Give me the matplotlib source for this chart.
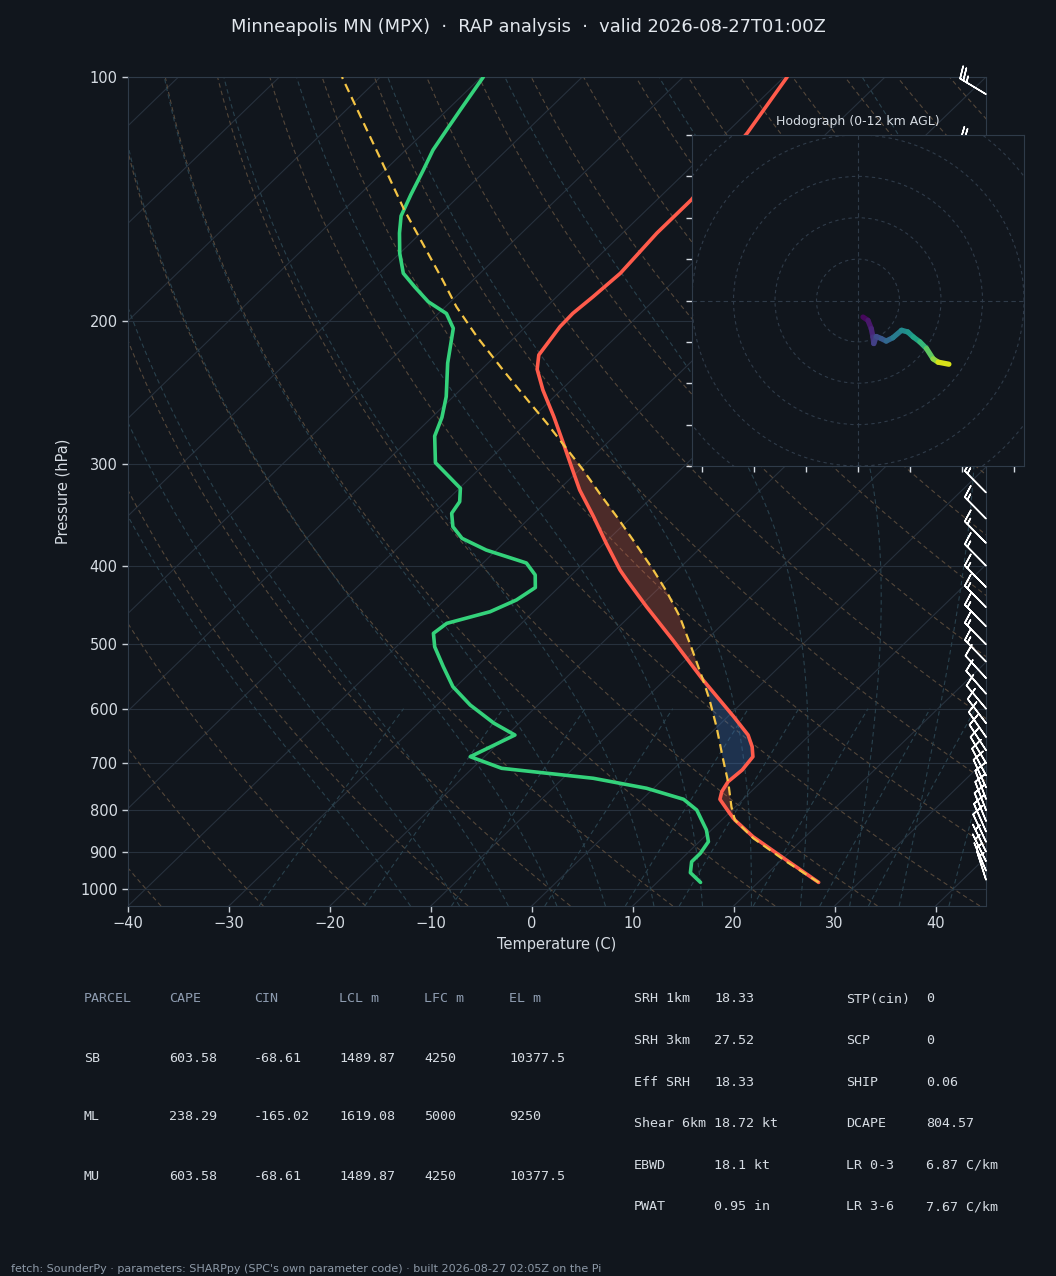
import numpy as np
import matplotlib
matplotlib.use('Agg')
import matplotlib.pyplot as plt
from matplotlib.transforms import Affine2D, blended_transform_factory
from matplotlib.collections import LineCollection
from matplotlib.patches import Circle
from matplotlib.ticker import FixedLocator, NullLocator, NullFormatter, FixedFormatter

# ---------------- data ----------------
title = "Minneapolis MN (MPX)  \u00b7  RAP analysis  \u00b7  valid 2026-08-27T01:00Z"
footer = ("fetch: SounderPy \u00b7 parameters: SHARPpy (SPC's own parameter code) \u00b7 "
          "built 2026-08-27 02:05Z on the Pi")

env_p = [982, 921.6, 862.5, 822.7, 807.2, 775.8, 759.2, 738.0, 713.9, 687.5, 668.3,
         646.5, 613.8, 553.1, 493.8, 449.4, 416.5, 404.9, 375.4, 348.0, 322.7, 302.1,
         282.7, 262.0, 243.0, 229.1, 220.0, 203.1, 195.5, 186.5, 174.5, 155.7, 141.7,
         117.3, 100]
env_t = [26.0, 20.5, 14.8, 11.3, 10.1, 7.7, 7.1, 6.7, 6.9, 6.6, 5.5,
         3.9, 0.6, -6.2, -13.3, -19.3, -24.0, -25.7, -29.8, -33.8, -37.9, -41.1,
         -44.3, -48.0, -51.8, -54.5, -55.8, -56.6, -56.7, -56.4, -56.1, -56.6, -56.6,
         -57.9, -59.7]

dew_p = [982, 955.4, 926.1, 904.3, 874.8, 846.2, 799.7, 775.8, 751.9, 730.9, 710.5,
         687.5, 646.5, 625.1, 593.8, 563.7, 532.6, 503.3, 484.5, 471.0, 455.7, 440.8,
         425.5, 410.6, 396.9, 382.6, 370.1, 358.1, 344.7, 333.5, 321.1, 298.6, 276.9,
         262.6, 247.6, 225.1, 204.0, 195.6, 189.2, 181.3, 174.5, 164.9, 155.7, 148.3,
         139.7, 130.2, 123.0, 116.3, 109.8, 100]
dew_t = [14.3, 12.3, 11.3, 11.3, 10.9, 9.5, 6.5, 4.1, -0.7, -7.0, -17.1,
         -21.4, -19.2, -22.5, -26.7, -30.3, -33.3, -36.2, -37.7, -37.4, -34.3, -32.9,
         -32.3, -33.6, -35.7, -41.0, -44.6, -46.7, -48.2, -48.6, -49.9, -55.0, -57.8,
         -59.0, -60.7, -64.0, -67.0, -69.2, -72.2, -75.1, -77.6, -80.0, -82.1, -83.7,
         -84.9, -86.2, -87.3, -88.0, -88.7, -89.8]

par_p = [982, 926.1, 866.4, 822.7, 792.3, 741.4, 694.0, 631.2, 585.4, 553.1, 503.3,
         462.2, 431.0, 404.9, 371.8, 348.0, 325.7, 304.9, 284.0, 267.0, 252.3, 229.6,
         208.9, 191.9, 177.9, 145.8, 125.4, 100]
par_t = [26.0, 20.7, 15.0, 11.3, 9.6, 6.9, 4.0, -0.1, -3.5, -6.2, -10.8,
         -15.0, -18.8, -22.4, -27.5, -31.5, -35.6, -39.6, -44.1, -48.0, -51.7, -57.8,
         -63.8, -68.9, -73.0, -84.0, -91.9, -103.8]
lfc_p = 553.1

# wind barbs (kt)
barb_p = [975, 950, 925, 900, 875, 850, 825, 800, 775, 750, 725, 700, 675, 650, 625,
          600, 575, 550, 525, 500, 475, 450, 425, 400, 375, 350, 325, 300, 275, 250,
          225, 200, 175, 150, 125, 105]
barb_u = [1.3, 1.9, 2.4, 2.8, 3.2, 3.4, 3.6, 3.7, 3.9, 4.2, 4.6, 5.4, 6.1, 6.8, 7.3,
          7.8, 8.0, 8.3, 8.8, 10.2, 10.6, 10.8, 11.0, 11.2, 11.4, 11.6, 11.8, 12.0, 13.5,
          15.0, 16.5, 18.0, 19.5, 20.5, 21.0, 21.5]
barb_v = [-4.1, -4.5, -4.9, -5.8, -6.8, -7.8, -8.8, -9.7, -10.3, -9.3, -8.8, -9.1, -9.4,
          -9.8, -9.6, -9.3, -9.2, -9.0, -9.0, -10.4, -10.8, -11.0, -11.2, -11.4, -11.6,
          -11.8, -12.0, -12.4, -13.0, -13.6, -14.2, -14.8, -15.0, -14.5, -14.0, -13.0]

# hodograph (kt) with height (km AGL)
hodo_u = [1.2, 2.4, 3.2, 3.6, 3.8, 4.4, 5.6, 6.8, 8.4, 10.5, 12.0, 13.3, 14.9, 16.5,
          18.1, 19.3, 21.9]
hodo_v = [-4.0, -4.8, -6.8, -8.8, -10.4, -8.7, -9.2, -9.8, -9.0, -7.2, -7.6, -8.8,
          -10.0, -11.6, -14.1, -14.9, -15.4]
hodo_z = [0, 0.5, 1.0, 1.5, 2.0, 2.5, 3.0, 3.5, 4.5, 5.5, 6.0, 6.5, 7.5, 8.5, 9.5,
          10.5, 12.0]

tbl_head = ["PARCEL", "CAPE", "CIN", "LCL m", "LFC m", "EL m"]
tbl_rows = [["SB", "603.58", "-68.61", "1489.87", "4250", "10377.5"],
            ["ML", "238.29", "-165.02", "1619.08", "5000", "9250"],
            ["MU", "603.58", "-68.61", "1489.87", "4250", "10377.5"]]
idx_left_lab = ["SRH 1km", "SRH 3km", "Eff SRH", "Shear 6km", "EBWD", "PWAT"]
idx_left_val = ["18.33", "27.52", "18.33", "18.72 kt", "18.1 kt", "0.95 in"]
idx_right_lab = ["STP(cin)", "SCP", "SHIP", "DCAPE", "LR 0-3", "LR 3-6"]
idx_right_val = ["0", "0", "0.06", "804.57", "6.87 C/km", "7.67 C/km"]

x_ticks = [-40, -30, -20, -10, 0, 10, 20, 30, 40]
p_ticks = [100, 200, 300, 400, 500, 600, 700, 800, 900, 1000]

# ---------------- style ----------------
BG = '#11161d'
GRID = '#27313d'
SPINE = '#2f3b49'
TXT = '#d6dce3'
DRY = '#54473a'
MOIST = '#29414d'
RED = '#ff5b4b'
GREEN = '#34d27b'
YEL = '#f4c445'

W, H = 1056, 1276
fig = plt.figure(figsize=(W / 100, H / 100), dpi=100, facecolor=BG)

ax = fig.add_axes([128 / W, 1 - 906 / H, 858 / W, 829 / H], facecolor=BG)
ax.set_yscale('log')
ax.set_xlim(-40, 45)
ax.set_ylim(1050, 100)
ax.set_autoscale_on(False)
skew = ax.transScale + ax.transLimits + Affine2D().skew_deg(45, 0) + ax.transAxes

# ---- background lines ----
for t0 in range(-140, 50, 10):
    ax.plot([t0, t0], [1050, 100], transform=skew, color=GRID, lw=0.8, zorder=1)
for p in p_ticks:
    ax.axhline(p, color=GRID, lw=0.8, zorder=1)

pp = np.geomspace(1050, 100, 80)
for th in range(-40, 200, 10):
    tt = (th + 273.15) * (pp / 1000.0) ** 0.2857 - 273.15
    ax.plot(tt, pp, transform=skew, color=DRY, lw=0.8, ls=(0, (4, 3)), zorder=1)


def esat(tk):
    tc = tk - 273.15
    return 6.112 * np.exp(17.67 * tc / (tc + 243.5))


def dtdlnp(tk, p):
    rd, cp, lv, eps = 287.04, 1005.7, 2.501e6, 0.622
    es = esat(tk)
    rs = eps * es / (p - es)
    return (rd * tk + lv * rs) / (cp + lv * lv * rs * eps / (rd * tk * tk))


def moist_line(t0c, plevs):
    out = [t0c + 273.15]
    lnp = np.log(plevs)
    for i in range(1, len(plevs)):
        h = lnp[i] - lnp[i - 1]
        tk = out[-1]
        p0 = plevs[i - 1]
        k1 = dtdlnp(tk, p0)
        pm = np.exp(lnp[i - 1] + h / 2)
        k2 = dtdlnp(tk + h / 2 * k1, pm)
        k3 = dtdlnp(tk + h / 2 * k2, pm)
        k4 = dtdlnp(tk + h * k3, plevs[i])
        out.append(tk + h / 6 * (k1 + 2 * k2 + 2 * k3 + k4))
    return np.array(out) - 273.15


up = np.geomspace(1000, 100, 120)
dn = np.geomspace(1000, 1050, 6)
for t0 in range(-15, 45, 5):
    tu = moist_line(t0, up)
    td = moist_line(t0, dn)
    ax.plot(np.r_[td[::-1], tu[1:]], np.r_[dn[::-1], up[1:]], transform=skew,
            color=MOIST, lw=0.8, ls=(0, (4, 3)), zorder=1)

pm_ = np.geomspace(1050, 600, 30)
for w in [0.4, 1, 2, 4, 7, 10, 16, 24, 32]:
    e = pm_ * (w / 1000) / (0.622 + w / 1000)
    a = np.log(e / 6.112)
    tdl = 243.5 * a / (17.67 - a)
    ax.plot(tdl, pm_, transform=skew, color=MOIST, lw=0.8, ls=(0, (4, 3)), zorder=1)

# ---- CAPE / CIN shading ----
pg = np.geomspace(max(par_p), min(par_p), 900)
lg = np.log(pg)[::-1]
te = np.interp(lg, np.log(env_p)[::-1], np.array(env_t)[::-1])[::-1]
tp = np.interp(lg, np.log(par_p)[::-1], np.array(par_t)[::-1])[::-1]
ax.fill_betweenx(pg, te, tp, where=tp > te, interpolate=True, transform=skew,
                 facecolor='#ff6a4d', alpha=0.25, lw=0, zorder=2)
cin_mask = (tp < te) & (pg >= lfc_p)
ax.fill_betweenx(pg, te, tp, where=cin_mask, interpolate=True, transform=skew,
                 facecolor='#3b70b8', alpha=0.32, lw=0, zorder=2)

# ---- profiles ----
ax.plot(env_t, env_p, transform=skew, color=RED, lw=2.6, zorder=4,
        solid_joinstyle='round', solid_capstyle='round')
ax.plot(dew_t, dew_p, transform=skew, color=GREEN, lw=2.6, zorder=4,
        solid_joinstyle='round', solid_capstyle='round')
ax.plot(par_t, par_p, transform=skew, color=YEL, lw=1.6, ls=(0, (4, 2.5)), zorder=5)

# ---- wind barbs ----
btr = blended_transform_factory(ax.transAxes, ax.transData)
ax.barbs(np.ones(len(barb_p)), barb_p, barb_u, barb_v, transform=btr,
         color='white', length=6.6, linewidth=1.1, clip_on=False, zorder=6)

# ---- axes cosmetics ----
ax.xaxis.set_major_locator(FixedLocator(x_ticks))
ax.yaxis.set_major_locator(FixedLocator(p_ticks))
ax.yaxis.set_major_formatter(FixedFormatter([str(p) for p in p_ticks]))
ax.yaxis.set_minor_locator(NullLocator())
ax.yaxis.set_minor_formatter(NullFormatter())
ax.tick_params(colors='#c9d0d8', labelcolor=TXT, labelsize=10.5, length=4, width=1)
for s in ax.spines.values():
    s.set_color(SPINE)
ax.set_xlabel('Temperature (C)', color=TXT, fontsize=10.5, labelpad=4)
ax.set_ylabel('Pressure (hPa)', color=TXT, fontsize=10.5, labelpad=7)

# ---- hodograph inset ----
axh = fig.add_axes([692 / W, 1 - 466 / H, 332 / W, 331 / H], facecolor=BG)
axh.set_xlim(-40, 40)
axh.set_ylim(-40, 40)
for r in range(10, 70, 10):
    axh.add_patch(Circle((0, 0), r, fill=False, ls=(0, (3, 3)), color=SPINE, lw=0.8))
axh.axhline(0, color=SPINE, lw=0.8, ls=(0, (4, 3)))
axh.axvline(0, color=SPINE, lw=0.8, ls=(0, (4, 3)))
pts = np.column_stack([hodo_u, hodo_v]).reshape(-1, 1, 2)
segs = np.concatenate([pts[:-1], pts[1:]], axis=1)
lc = LineCollection(segs, cmap='viridis', linewidths=3.8, capstyle='round',
                    joinstyle='round')
lc.set_array((np.array(hodo_z[:-1]) + np.array(hodo_z[1:])) / 2)
lc.set_clim(0, 12)
axh.add_collection(lc)
axh.xaxis.set_major_locator(FixedLocator([-37.5, -25, -12.5, 0, 12.5, 25, 37.5]))
axh.yaxis.set_major_locator(FixedLocator(list(range(-40, 41, 10))))
axh.xaxis.set_major_formatter(NullFormatter())
axh.yaxis.set_major_formatter(NullFormatter())
axh.tick_params(colors='#d6dce3', length=4, width=1)
for s in axh.spines.values():
    s.set_color(SPINE)
axh.set_title('Hodograph (0-12 km AGL)', color=TXT, fontsize=9, pad=7)

# ---- title / footer ----
fig.text(0.5, 1 - 27 / H, title, ha='center', va='center', color='#e2e7ed', fontsize=12.9)
fig.text(11 / W, 1 - 1269 / H, footer, ha='left', va='center', color='#8d99a7', fontsize=8)

# ---- parameter tables ----
mono = 'DejaVu Sans Mono'
col_x = [84, 169, 254, 339, 424, 509]
for j, h in enumerate(tbl_head):
    fig.text(col_x[j] / W, 1 - 999 / H, h, family=mono, fontsize=9.6, color='#8e9cb0',
             ha='left', va='center')
for i, row in enumerate(tbl_rows):
    y = 1058 + i * 59
    for j, v in enumerate(row):
        fig.text(col_x[j] / W, 1 - y / H, v, family=mono, fontsize=9.6, color=TXT,
                 ha='left', va='center')

for i in range(6):
    y = 999 + i * 41.6
    fig.text(634 / W, 1 - y / H, idx_left_lab[i], family=mono, fontsize=9.6, color=TXT,
             ha='left', va='center')
    fig.text(714 / W, 1 - y / H, idx_left_val[i], family=mono, fontsize=9.6, color=TXT,
             ha='left', va='center')
    fig.text(846 / W, 1 - y / H, idx_right_lab[i], family=mono, fontsize=9.6, color=TXT,
             ha='left', va='center')
    fig.text(926 / W, 1 - y / H, idx_right_val[i], family=mono, fontsize=9.6, color=TXT,
             ha='left', va='center')

fig.savefig('out.png', dpi=100, facecolor=BG)
